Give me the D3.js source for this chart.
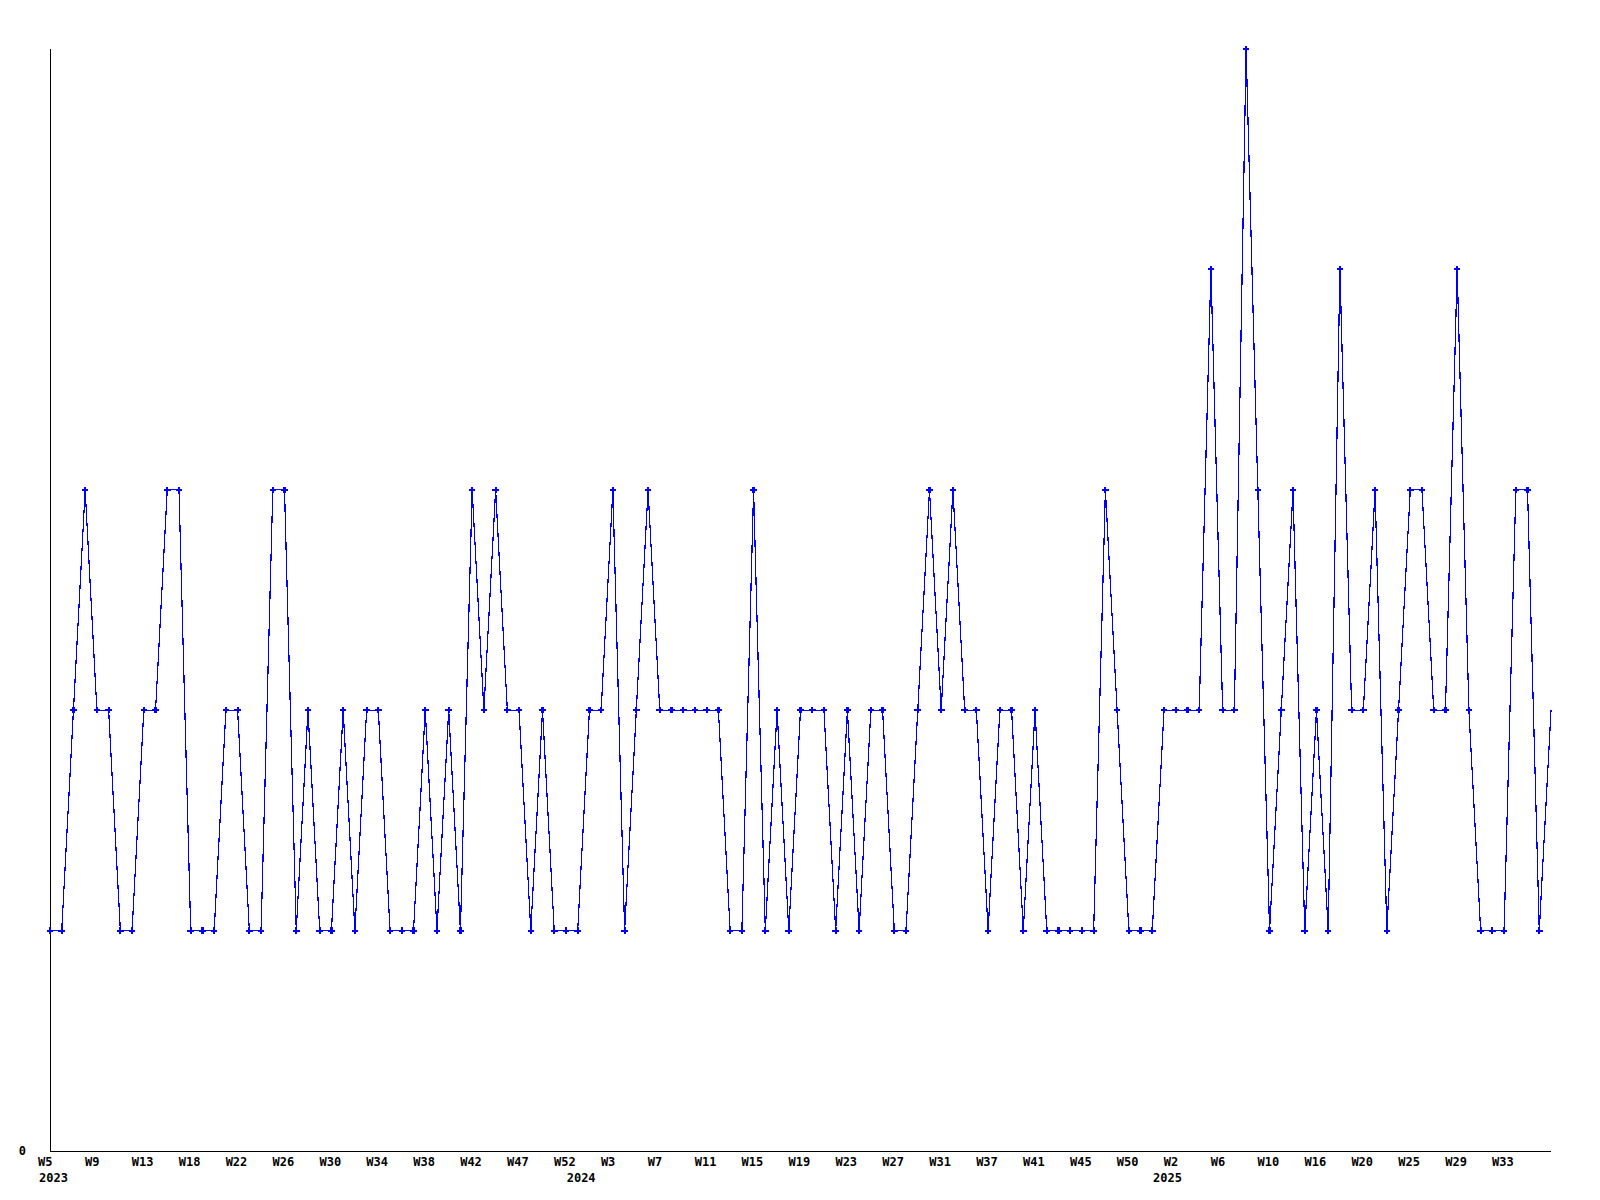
<!DOCTYPE html>
<html>
<head>
<meta charset="utf-8">
<script src="https://cdn.jsdelivr.net/npm/d3@7"></script>
<style>
  body { margin: 0; background: #fff; }
  svg { display: block; }
  text { font-family: "DejaVu Sans Mono", monospace; font-weight: bold; font-size: 12px; fill: #000; }
</style>
</head>
<body>
<svg></svg>
<script>
// one value per week, 2023 W5 .. 2025 W37
let values = [1,1,2,3,2,2,1,1,2,2,3,3,1,1,1,2,2,1,1,3,3,1,2,1,1,2,1,2,2,1,
              1,1,2,1,2,1,3,2,3,2,2,1,2,1,1,1,2,2,3,1,2,3,2,2,2,2,2,2,1,1,
              3,1,2,1,2,2,2,1,2,1,2,2,1,1,2,3,2,3,2,2,1,2,2,1,2,1,1,1,1,1,
              3,2,1,1,1,2,2,2,2,4,2,2,5,3,1,2,3,1,2,1,4,2,2,3,1,2,3,3,2,2,
              4,2,1,1,1,3,3,1,2];

// a week label every 4th point
let weekLabels = ["W5","W9","W13","W18","W22","W26","W30","W34","W38","W42","W47",
                  "W52","W3","W7","W11","W15","W19","W23","W27","W31","W37","W41",
                  "W45","W50","W2","W6","W10","W16","W20","W25","W29","W33"];
let yearLabels = ["2023","2024","2025"];
let yearStart = [0,45,95];
let yTicks = [0];

var svgWidth = 1600, svgHeight = 1200;
var plotLeft = 50, plotRight = 1551, plotTop = 49, plotBottom = 1151;

var svg = d3.select('svg')
            .attr("width",svgWidth)
            .attr("height",svgHeight);

var xScale = d3.scaleLinear()
               .domain([0,values.length-1])
               .range([plotLeft,plotRight]);

var yScale = d3.scaleLinear()
               .domain([0,5])
               .range([plotBottom,plotTop]);

// axes
svg.append("line")
   .attr("x1",plotLeft+0.5).attr("x2",plotLeft+0.5)
   .attr("y1",plotTop).attr("y2",plotBottom+0.5)
   .attr("stroke","#000").attr("shape-rendering","crispEdges");
svg.append("line")
   .attr("x1",plotLeft).attr("x2",plotRight)
   .attr("y1",plotBottom+0.5).attr("y2",plotBottom+0.5)
   .attr("stroke","#000").attr("shape-rendering","crispEdges");

svg.selectAll("text.ytick")
   .data(yTicks)
   .enter()
   .append("text")
   .attr("class","ytick")
   .attr("x",plotLeft-24)
   .attr("y",d => yScale(d)+4)
   .attr("text-anchor","end")
   .text(d => d);

svg.selectAll("text.week")
   .data(weekLabels)
   .enter()
   .append("text")
   .attr("class","week")
   .attr("x",(d,i) => xScale(i*4)-12)
   .attr("y",plotBottom+15)
   .text(d => d);

svg.selectAll("text.year")
   .data(yearLabels)
   .enter()
   .append("text")
   .attr("class","year")
   .attr("x",(d,i) => xScale(yearStart[i])-11)
   .attr("y",plotBottom+31)
   .text(d => d);

// the series
var line = d3.line()
             .x((d,i) => xScale(i))
             .y(d => yScale(d));

svg.append("path")
   .datum(values)
   .attr("d",line)
   .attr("fill","none")
   .attr("stroke","#0000ff")
   .attr("stroke-width",1.2)
   .attr("shape-rendering","crispEdges");

var marker = d3.symbol().type(d3.symbolCross).size(24);

svg.selectAll("path.pt")
   .data(values.slice(0,values.length-1))
   .enter()
   .append("path")
   .attr("class","pt")
   .attr("d",marker)
   .attr("transform",(d,i) => `translate(${xScale(i)},${yScale(d)})`)
   .attr("fill","#0000ff")
   .attr("shape-rendering","crispEdges");
</script>
</body>
</html>
